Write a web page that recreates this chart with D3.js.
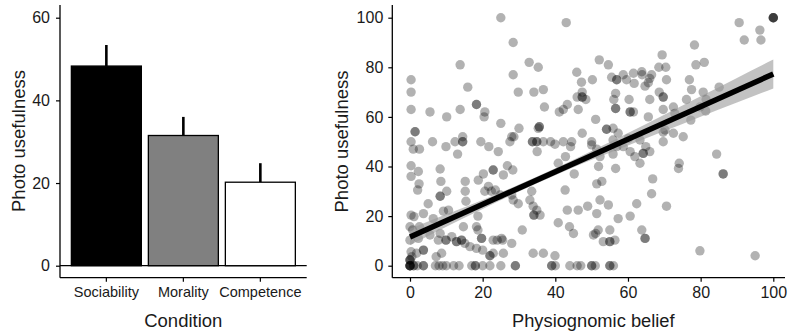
<!DOCTYPE html>
<html><head><meta charset="utf-8">
<script src="https://cdn.jsdelivr.net/npm/d3@7"></script>
<style>
html,body{margin:0;padding:0;background:#fff;}
svg{display:block;font-family:"Liberation Sans",Arial,sans-serif;}
</style></head>
<body><svg id="c" width="791" height="332"></svg>
<script>
// ---- Left panel data ----
const conditions = ["Sociability", "Morality", "Competence"];
const meanUsefulness = [48.3, 31.5, 20.2];
const errorTop = [53.4, 36.0, 24.8];
const barFills = ["#000000", "#808080", "#ffffff"];
const leftYTicks = [0, 20, 40, 60];

// ---- Right panel data ----
const rightTicks = [0, 20, 40, 60, 80, 100];
// [physiognomic belief, photo usefulness]
const scatterPoints = [
[25,100],[43,98],[28.4,90],[90.6,98],[100,100],[100,100],[100,100],[100,100],[96.3,95],[92,91],[96.6,91],[78.3,89],
[13.8,81],[32.8,82],[35.3,80],[52.1,83],[54.6,81],[78.7,81],[81,82],[69.4,85],
[0.3,75],[0.3,70],[15.9,72],[28.4,77],[29.8,70],[34.1,70],[36.7,71],[45.9,78],[47.2,74],[47.4,70],
[50.2,75],[47.4,68],[47.4,68],[46,68],[48.4,67],[55.5,76],[56.9,75],[56.9,75],[56.6,69.5],[58.7,77],
[59.6,75],[61.5,77.6],[61.7,73.5],[63.8,78.2],[63.9,77],[66,75.5],[66.5,77],[68.5,80],[70.4,80],[70.6,75],
[64.7,72.4],[65.6,73.8],[68.6,70],[69.7,68],[69.7,68],[76.9,75],[77.5,71],[80.7,70],[85.1,72],
[0.3,63],[5.5,62],[10.1,60],[13.8,63],[18.3,65],[18.3,65],[20.6,62],[20.4,60],[25,57.4],[30,55.4],
[28,52],[37,64],[35.3,55.4],[35.6,56],[35.6,56],[41.1,62],[42.2,63],[43.3,65],[46.3,63],[51.1,59],
[56.1,67],[56.6,63.4],[56.6,63.4],[60.3,67],[60.6,62],[60.6,62],[61.5,62],[66,67],[65.6,60],[69.7,63],
[72.5,64],[72.9,61.4],[76.1,67],[77.3,58.7],[79.8,64],[81.4,62.4],[81.5,67],
[0.3,50],[1.4,54],[1.4,54],[0.9,47],[2.6,47],[6.2,50],[9.9,48],[12.4,50],[14.5,52],[14.5,50],
[14.5,50],[13.1,45],[19.5,50],[21.7,48],[24.3,46],[27.5,50],[28.6,52],[33.7,50],[33.7,50],[34.9,50],
[34.9,50],[36.7,50],[38.7,50],[39.9,49],[35,46],[42.2,50],[44.2,48],[44.5,50],[42.8,44],[47.4,53.4],
[50,50],[50,48.7],[51.4,47],[52.3,44],[54.1,55],[54.1,55],[55.9,55.4],[55.9,50.7],[57.3,53.4],[56.9,48],
[58.7,48],[55.9,45],[56.6,39.2],[60.1,51.3],[60.6,46],[61.9,44],[63.3,50.7],[64.2,45.3],[64.2,45.3],[63.3,41.3],
[66,46],[64.9,48],[69.7,50],[70.2,54.7],[69.7,53.8],[72.5,53.4],[75.2,52],[73.9,39.2],[74.1,41.3],[84.4,45],
[86.2,37],[86.2,37],
[0.3,40.3],[0.3,36],[2.3,38],[2.5,33],[2.1,30.5],[8.3,39],[8.5,34],[10.1,30],[5,25],[8.3,28],
[8.3,28],[15.2,34],[15.2,30],[15.4,26],[18.8,34.5],[20.2,37],[21.6,32],[22.9,38.6],[22.9,38.6],[20.6,30],
[22.4,30],[23.5,30.5],[24.8,28.5],[25.7,36.6],[26.8,40.3],[28.3,38.6],[28,28.5],[28.4,26.5],[29.8,25],[33.5,30],
[33,26.5],[33.9,24],[34.9,22.4],[34.1,20.4],[34.1,20.4],[35.8,20.4],[40.8,41.3],[42.7,30.5],[43.3,22.4],[46.3,22.4],
[45.2,37],[48.9,24],[51.4,21],[51.4,33],[52.8,34],[51.9,40],[52.3,26.5],[54.6,24.5],[57.3,19],[60.6,20],
[62.4,25],[66.5,29],[66.8,35],[70.6,24],[0.3,20.4],[1.1,19.8],[3.7,21],[6.4,19],[9.2,22],[10.6,22.4],[18.7,20],
[0,15.7],[0.7,14.4],[2.6,15.7],[0,10.3],[2.3,11],[5.5,12.4],[8.3,13],[7.8,10.3],[9.9,10.3],[9.9,10.3],
[11.5,11.7],[12.8,9.7],[12.8,9.7],[14.2,10.3],[14.2,10.3],[15.1,9],[14.7,15.7],[16.5,7.7],[18.3,15.7],[18.7,14.4],
[19.7,11],[19.7,11],[18.3,7],[20,6.3],[22.9,10.3],[24,10.3],[25.2,11],[25.5,10.3],[28,9],[30.9,14.4],
[22,4],[22,4],[22.9,5],[25.7,5],[33.9,5],[36.7,5],[39.9,4],[40.8,17.3],[43.9,15.7],[45,13],
[50.5,12.4],[51.1,13],[51.8,14.4],[53.2,9.7],[55,9.7],[55,9.7],[55,14.4],[56.4,10.3],[63.8,14.4],[64.7,11],
[64.7,11],[79.8,6],[95,4],[0.3,5.6],[1.8,5],[3.7,6.3],[3.7,6.3],[7.2,3.6],[8.7,5],[0,2.3],
[0,2.3],[0,2.3],[0.5,3.6],
[0,0],[0,0],[0,0],[0,0],[0,0],[1,0],[1,0],[2,0],[3.7,0],[3.7,0],
[7,0],[8,0],[9,0],[10,0],[12,0],[13.5,0],[17,0],[18,0],[18,0],[20,0],
[22,0],[25,0],[29,0],[29,0],[39,0],[39,0],[40,0],[44,0],[46,0],[47,0],
[50,0],[50,0],[51,0],[55,0],[55,0],[56,0]
];
// regression line and its confidence band
const fitX = [0, 100];
const fitY = [11.6, 77.3];
const bandX = [0, 10, 20, 30, 40, 50, 60, 70, 80, 90, 100];
const bandLow = [8.3, 15.7, 22.9, 29.9, 36.5, 42.7, 48.5, 54.3, 60.1, 65.8, 71.5];
const bandHigh = [14.9, 20.7, 26.5, 32.7, 39.3, 46.3, 53.5, 60.9, 68.3, 75.7, 83.1];

const svg = d3.select("#c");
const txt = "#1a1a1a";
const axisTop = 5, axisY = 277.7;

// ================= LEFT PANEL =================
const L = svg.append("g");
const xL = d3.scaleBand().domain(conditions).range([60, 306.7]).paddingInner(0.091).paddingOuter(0.1475);
const yL = d3.scaleLinear().domain([0, 60]).range([265.7, 17.7]);

// zero line
L.append("line").attr("x1", 60).attr("x2", 306.7).attr("y1", yL(0)).attr("y2", yL(0))
  .attr("stroke", "#000").attr("stroke-width", 1.2);

// error bars
L.selectAll("line.err").data(conditions).join("line").attr("class", "err")
  .attr("x1", d => xL(d) + xL.bandwidth() / 2).attr("x2", d => xL(d) + xL.bandwidth() / 2)
  .attr("y1", (d, i) => yL(meanUsefulness[i])).attr("y2", (d, i) => yL(errorTop[i]))
  .attr("stroke", "#000").attr("stroke-width", 2.6);

// bars
L.selectAll("rect").data(conditions).join("rect")
  .attr("x", d => xL(d)).attr("width", xL.bandwidth())
  .attr("y", (d, i) => yL(meanUsefulness[i])).attr("height", (d, i) => yL(0) - yL(meanUsefulness[i]))
  .attr("fill", (d, i) => barFills[i]).attr("stroke", "#000").attr("stroke-width", 1.3);

// y axis
const yAxL = L.append("g").attr("transform", "translate(60,0)")
  .call(d3.axisLeft(yL).tickValues(leftYTicks).tickSize(4).tickPadding(6).tickFormat(d3.format("d")));
yAxL.select(".domain").remove();
yAxL.append("line").attr("x1", 0).attr("x2", 0).attr("y1", axisTop).attr("y2", axisY).attr("stroke", "#000").attr("stroke-width", 1.3);
yAxL.selectAll(".tick line").attr("stroke", "#000").attr("stroke-width", 1.2);
yAxL.selectAll(".tick text").attr("font-size", 16).attr("fill", txt).attr("font-family", "Liberation Sans, Arial, sans-serif");

// x axis
const xAxL = L.append("g").attr("transform", `translate(0,${axisY})`)
  .call(d3.axisBottom(xL).tickSize(4).tickPadding(5));
xAxL.select(".domain").remove();
xAxL.append("line").attr("x1", 60).attr("x2", 306.7).attr("y1", 0).attr("y2", 0).attr("stroke", "#000").attr("stroke-width", 1.3);
xAxL.selectAll(".tick line").attr("stroke", "#000").attr("stroke-width", 1.2);
xAxL.selectAll(".tick text").attr("font-size", 14.5).attr("fill", txt).attr("font-family", "Liberation Sans, Arial, sans-serif");

L.append("text").attr("x", 183.3).attr("y", 326.5).attr("text-anchor", "middle")
  .attr("font-size", 18.5).attr("fill", txt).text("Condition");
L.append("text").attr("transform", "translate(24.5,141) rotate(-90)").attr("text-anchor", "middle")
  .attr("font-size", 18.5).attr("fill", txt).text("Photo usefulness");

// ================= RIGHT PANEL =================
const R = svg.append("g");
const xR = d3.scaleLinear().domain([0, 100]).range([410, 773.3]);
const yR = d3.scaleLinear().domain([0, 100]).range([265.7, 17.7]);
const axX0 = 392.3, axX1 = 785;

// points
R.selectAll("circle").data(scatterPoints).join("circle")
  .attr("cx", d => xR(d[0])).attr("cy", d => yR(d[1])).attr("r", 4.7)
  .attr("fill", "#000").attr("fill-opacity", 0.3);

// confidence band
const bandData = bandX.map((x, i) => ({x, lo: bandLow[i], hi: bandHigh[i]}));
R.append("path").datum(bandData)
  .attr("d", d3.area().x(d => xR(d.x)).y0(d => yR(d.lo)).y1(d => yR(d.hi)).curve(d3.curveMonotoneX))
  .attr("fill", "#999").attr("fill-opacity", 0.6);

// fit line
R.append("line").attr("x1", xR(fitX[0])).attr("x2", xR(fitX[1]))
  .attr("y1", yR(fitY[0])).attr("y2", yR(fitY[1]))
  .attr("stroke", "#000").attr("stroke-width", 5.5);

// y axis
const yAxR = R.append("g").attr("transform", `translate(${axX0},0)`)
  .call(d3.axisLeft(yR).tickValues(rightTicks).tickSize(4).tickPadding(5).tickFormat(d3.format("d")));
yAxR.select(".domain").remove();
yAxR.append("line").attr("x1", 0).attr("x2", 0).attr("y1", axisTop).attr("y2", axisY).attr("stroke", "#000").attr("stroke-width", 1.3);
yAxR.selectAll(".tick line").attr("stroke", "#000").attr("stroke-width", 1.2);
yAxR.selectAll(".tick text").attr("font-size", 16).attr("fill", txt).attr("font-family", "Liberation Sans, Arial, sans-serif");

// x axis
const xAxR = R.append("g").attr("transform", `translate(0,${axisY})`)
  .call(d3.axisBottom(xR).tickValues(rightTicks).tickSize(4).tickPadding(5).tickFormat(d3.format("d")));
xAxR.select(".domain").remove();
xAxR.append("line").attr("x1", axX0).attr("x2", axX1).attr("y1", 0).attr("y2", 0).attr("stroke", "#000").attr("stroke-width", 1.3);
xAxR.selectAll(".tick line").attr("stroke", "#000").attr("stroke-width", 1.2);
xAxR.selectAll(".tick text").attr("font-size", 16).attr("fill", txt).attr("font-family", "Liberation Sans, Arial, sans-serif");

R.append("text").attr("x", 593.3).attr("y", 326.5).attr("text-anchor", "middle")
  .attr("font-size", 18.3).attr("fill", txt).text("Physiognomic belief");
R.append("text").attr("transform", "translate(348,141.5) rotate(-90)").attr("text-anchor", "middle")
  .attr("font-size", 18.5).attr("fill", txt).text("Photo usefulness");
</script></body></html>
